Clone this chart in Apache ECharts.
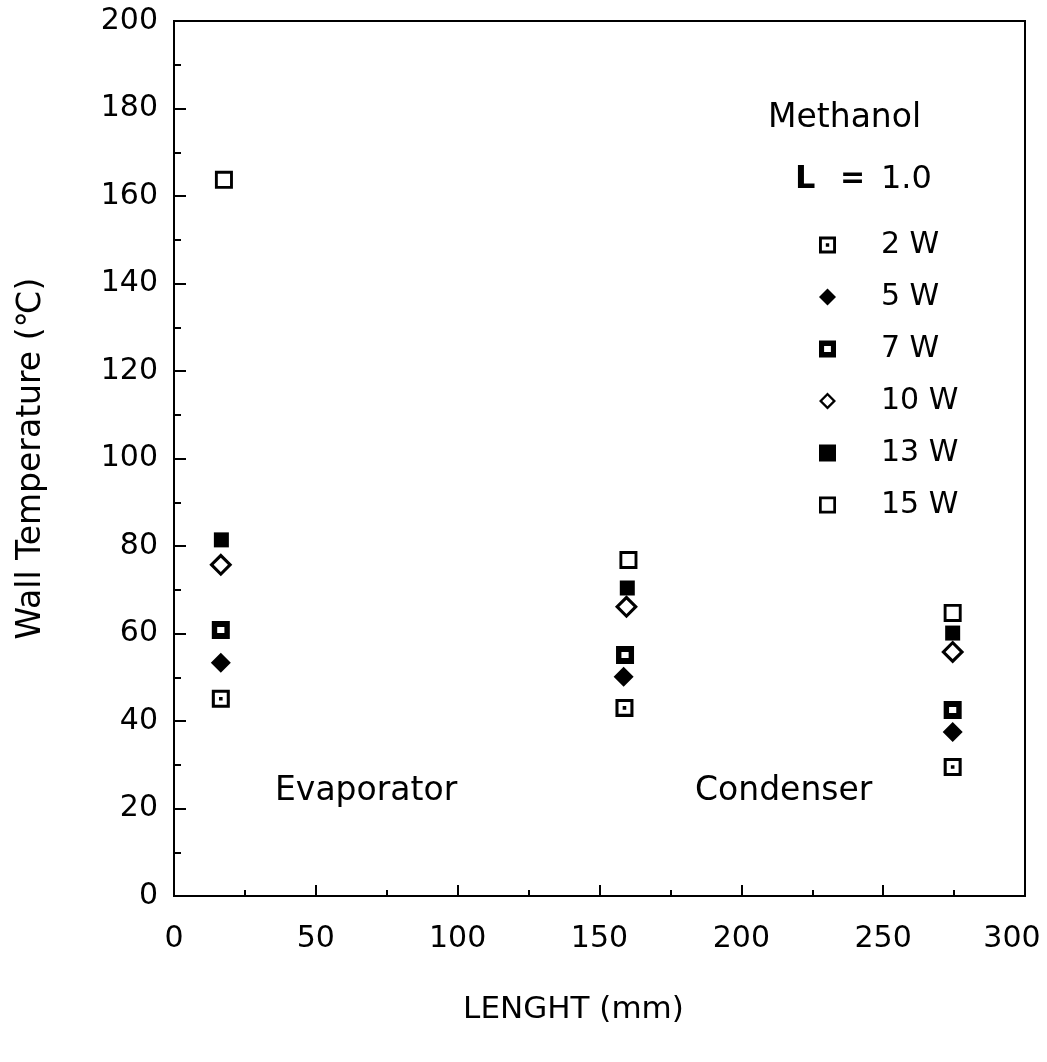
<!DOCTYPE html>
<html>
<head>
<meta charset="utf-8">
<script src="https://cdn.jsdelivr.net/npm/echarts@6/dist/echarts.min.js"></script>
<style>
  html, body { margin: 0; padding: 0; background: #fff; }
  #chart { width: 1047px; height: 1062px; }
</style>
</head>
<body>
<div id="chart"></div>
<script>
// 壁温数据 (x: 长度 mm, y: 温度 ℃)
var seriesNames = ['2 W', '5 W', '7 W', '10 W', '13 W', '15 W'];
var len2W = [16.5, 158.8, 274.5];
var temp2W = [45.1, 43.0, 29.5];
var len5W = [16.5, 158.5, 274.5];
var temp5W = [53.3, 50.1, 37.5];
var len7W = [16.5, 159.0, 274.5];
var temp7W = [60.8, 55.1, 42.5];
var len10W = [16.5, 159.5, 274.5];
var temp10W = [75.7, 66.1, 55.8];
var len13W = [16.7, 159.8, 274.5];
var temp13W = [81.4, 70.4, 60.1];
var len15W = [17.6, 160.2, 274.5];
var temp15W = [163.7, 76.8, 64.7];

var font = 'DejaVu Sans';
var ink = '#000';

function pairs(xs, ys) {
    var out = [];
    for (var i = 0; i < xs.length; i++) {
        out.push([xs[i], ys[i]]);
    }
    return out;
}

// 符号
var symDotSquare = 'path://M0,0H10V10H0Z M1.7,1.7V8.3H8.3V1.7Z M4,4H6V6H4Z';
var symThickSquare = 'path://M0,0H10V10H0Z M3,3.3V6.7H7V3.3Z';
var symOpenSquare = 'path://M0,0H10V10H0Z M1.6,1.6V8.4H8.4V1.6Z';
var symOpenDiamond = 'path://M5,0L10,5L5,10L0,5Z M5,1.9L1.9,5L5,8.1L8.1,5Z';

function makeSeries(name, data, symbol, size) {
    return {
        name: name,
        type: 'scatter',
        data: data,
        symbol: symbol,
        symbolSize: size,
        itemStyle: { color: ink, opacity: 1 },
        emphasis: { disabled: true }
    };
}

var myChart = echarts.init(document.getElementById('chart'));

var option = {
    animation: false,
    backgroundColor: '#fff',
    textStyle: { fontFamily: font, color: ink },
    grid: {
        left: 174, right: 22, top: 21, bottom: 166,
        outerBoundsMode: 'none',
        show: true, borderColor: ink, borderWidth: 2
    },
    legend: {
        data: seriesNames,
        orient: 'vertical',
        left: 814,
        top: 225,
        itemWidth: 17,
        itemHeight: 17,
        itemGap: 22,
        selectedMode: false,
        textStyle: {
            fontFamily: font, fontSize: 30, color: ink,
            lineHeight: 30, padding: [0, 0, 0, 40]
        }
    },
    xAxis: {
        type: 'value',
        min: 0, max: 300, interval: 50,
        name: 'LENGHT (mm)',
        nameLocation: 'middle',
        nameGap: 98,
        nameTextStyle: { fontFamily: font, fontSize: 31, color: ink, padding: [0, 52, 0, 0] },
        axisLine: { lineStyle: { color: ink, width: 2 } },
        axisTick: { inside: true, length: 11, lineStyle: { color: ink, width: 2 } },
        minorTick: { show: true, splitNumber: 2, length: 6, lineStyle: { color: ink, width: 2 } },
        axisLabel: {
            fontFamily: font, fontSize: 30, color: ink, margin: 28,
            // 最后一个刻度标签稍向左移，避免被裁掉
            formatter: function (v) { return v === 300 ? '{r|' + v + '}' : String(v); },
            rich: { r: { fontFamily: font, fontSize: 30, color: ink, padding: [0, 26, 0, 0] } }
        },
        splitLine: { show: false }
    },
    yAxis: {
        type: 'value',
        min: 0, max: 200, interval: 20,
        name: 'Wall Temperature (℃)',
        nameLocation: 'middle',
        nameGap: 126,
        nameTextStyle: { fontFamily: font, fontSize: 33, color: ink },
        axisLine: { lineStyle: { color: ink, width: 2 } },
        axisTick: { inside: true, length: 12, lineStyle: { color: ink, width: 2 } },
        minorTick: { show: true, splitNumber: 2, length: 7, lineStyle: { color: ink, width: 2 } },
        axisLabel: { fontFamily: font, fontSize: 30, color: ink, margin: 16 },
        splitLine: { show: false }
    },
    graphic: [
        { type: 'text', left: 768, top: 102, style: { text: 'Methanol', font: '33px "DejaVu Sans"', fill: ink } },
        { type: 'text', left: 795, top: 164, style: { text: 'L', font: 'bold 32px "DejaVu Sans"', fill: ink } },
        { type: 'text', left: 840, top: 164, style: { text: '=', font: 'bold 30px "DejaVu Sans"', fill: ink } },
        { type: 'text', left: 881, top: 164, style: { text: '1.0', font: '32px "DejaVu Sans"', fill: ink } },
        { type: 'text', left: 275, top: 775, style: { text: 'Evaporator', font: '33px "DejaVu Sans"', fill: ink } },
        { type: 'text', left: 695, top: 775, style: { text: 'Condenser', font: '33px "DejaVu Sans"', fill: ink } }
    ],
    series: [
        makeSeries('2 W', pairs(len2W, temp2W), symDotSquare, 18),
        makeSeries('5 W', pairs(len5W, temp5W), 'diamond', 20),
        makeSeries('7 W', pairs(len7W, temp7W), symThickSquare, 18),
        makeSeries('10 W', pairs(len10W, temp10W), symOpenDiamond, 23),
        makeSeries('13 W', pairs(len13W, temp13W), 'rect', 15),
        makeSeries('15 W', pairs(len15W, temp15W), symOpenSquare, 18)
    ]
};

myChart.setOption(option);
</script>
</body>
</html>
